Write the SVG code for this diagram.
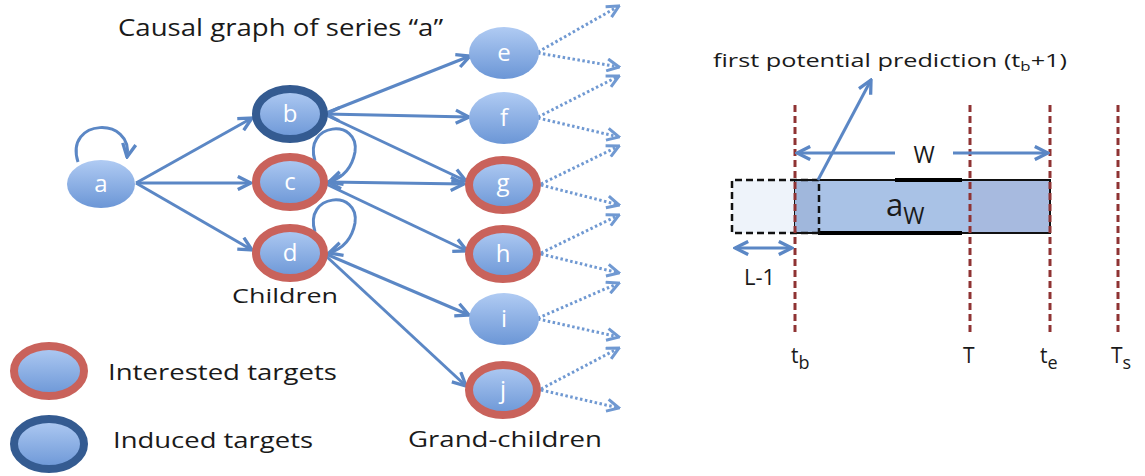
<svg xmlns="http://www.w3.org/2000/svg" width="1145" height="476" viewBox="0 0 1145 476">
<defs>
<linearGradient id="nodeGrad" x1="0" y1="0" x2="0" y2="1">
<stop offset="0" stop-color="#b0cbf3"/>
<stop offset="1" stop-color="#6b96d6"/>
</linearGradient>
<marker id="ah" viewBox="0 0 10 10" refX="9" refY="5" markerWidth="5.5" markerHeight="5.5" orient="auto-start-reverse" markerUnits="strokeWidth">
<path d="M1,1 L9,5 L1,9" fill="none" stroke="#5b87c5" stroke-width="2"/>
</marker>
<marker id="ahd" viewBox="0 0 10 10" refX="9" refY="5" markerWidth="5" markerHeight="5" orient="auto" markerUnits="strokeWidth">
<path d="M1,1 L9,5 L1,9" fill="none" stroke="#7099d2" stroke-width="2"/>
</marker>
</defs>
<style>
.node{fill:url(#nodeGrad);}
.red{stroke:#c9625b;stroke-width:8;}
.dark{stroke:#345b91;stroke-width:8;}
.nl{font-family:"Open Sans","Liberation Sans",sans-serif;font-size:24px;fill:#ffffff;text-anchor:middle;}
.lbl{font-family:"Open Sans","Liberation Sans",sans-serif;fill:#1a1a1a;}
.edge{fill:none;stroke:#5b87c5;stroke-width:3;}
.dot{fill:none;stroke:#7099d2;stroke-width:3;stroke-dasharray:2.5,2.5;}
.vline{stroke:#8f3333;stroke-width:3;stroke-dasharray:7,4;}
</style>
<rect width="1145" height="476" fill="#ffffff"/>

<text class="lbl" x="118" y="36" font-size="23" textLength="325" lengthAdjust="spacingAndGlyphs">Causal graph of series “a”</text>

<g id="connectors">
<path class="edge" d="M78,162 C64,118 134,116 127,157" marker-end="url(#ah)"/>
<path class="edge" d="M315,161 C303,122 360,118 355,152 C352,168 342,178 329,182" marker-end="url(#ah)"/>
<path class="edge" d="M315,232 C303,193 360,189 355,223 C352,239 342,249 329,253" marker-end="url(#ah)"/>
<line class="edge" x1="136" y1="183" x2="252" y2="118" marker-end="url(#ah)"/>
<line class="edge" x1="136" y1="183" x2="251" y2="183" marker-end="url(#ah)"/>
<line class="edge" x1="136" y1="183" x2="252" y2="250" marker-end="url(#ah)"/>
<line class="edge" x1="326" y1="113" x2="470" y2="56" marker-end="url(#ah)"/>
<line class="edge" x1="326" y1="114" x2="469" y2="117" marker-start="url(#ah)" marker-end="url(#ah)"/>
<line class="edge" x1="326" y1="115" x2="466" y2="181" marker-end="url(#ah)"/>
<line class="edge" x1="328" y1="182" x2="464" y2="184" marker-start="url(#ah)" marker-end="url(#ah)"/>
<line class="edge" x1="326" y1="184" x2="467" y2="251" marker-end="url(#ah)"/>
<line class="edge" x1="326" y1="254" x2="469" y2="315" marker-end="url(#ah)"/>
<line class="edge" x1="326" y1="256" x2="466" y2="386" marker-end="url(#ah)"/>
<line class="dot" x1="538" y1="52" x2="619" y2="6" marker-end="url(#ahd)"/>
<line class="dot" x1="538" y1="53" x2="619" y2="67" marker-end="url(#ahd)"/>
<line class="dot" x1="538" y1="117" x2="619" y2="76" marker-end="url(#ahd)"/>
<line class="dot" x1="538" y1="118" x2="619" y2="137" marker-end="url(#ahd)"/>
<line class="dot" x1="541" y1="184" x2="619" y2="146" marker-end="url(#ahd)"/>
<line class="dot" x1="541" y1="185" x2="619" y2="205" marker-end="url(#ahd)"/>
<line class="dot" x1="541" y1="253" x2="619" y2="215" marker-end="url(#ahd)"/>
<line class="dot" x1="541" y1="254" x2="619" y2="273" marker-end="url(#ahd)"/>
<line class="dot" x1="538" y1="318" x2="619" y2="283" marker-end="url(#ahd)"/>
<line class="dot" x1="538" y1="319" x2="619" y2="337" marker-end="url(#ahd)"/>
<line class="dot" x1="541" y1="389" x2="619" y2="348" marker-end="url(#ahd)"/>
<line class="dot" x1="541" y1="390" x2="619" y2="408" marker-end="url(#ahd)"/>
</g>

<g id="node-a"><ellipse class="node" cx="101" cy="184" rx="34" ry="24"/><text class="nl" x="101" y="192">a</text></g>
<g id="node-b"><ellipse class="node dark" cx="290" cy="114" rx="34" ry="25"/><text class="nl" x="290" y="122">b</text></g>
<g id="node-c"><ellipse class="node red" cx="290" cy="182" rx="34" ry="25"/><text class="nl" x="290" y="190">c</text></g>
<g id="node-d"><ellipse class="node red" cx="290" cy="253" rx="34" ry="25"/><text class="nl" x="290" y="261">d</text></g>
<g id="node-e"><ellipse class="node" cx="504" cy="53" rx="35" ry="26"/><text class="nl" x="504" y="61">e</text></g>
<g id="node-f"><ellipse class="node" cx="504" cy="118" rx="35" ry="26"/><text class="nl" x="504" y="126">f</text></g>
<g id="node-g"><ellipse class="node red" cx="503" cy="185" rx="34" ry="25"/><text class="nl" x="503" y="191">g</text></g>
<g id="node-h"><ellipse class="node red" cx="503" cy="254" rx="34" ry="25"/><text class="nl" x="503" y="262">h</text></g>
<g id="node-i"><ellipse class="node" cx="504" cy="319" rx="35" ry="26"/><text class="nl" x="504" y="327">i</text></g>
<g id="node-j"><ellipse class="node red" cx="503" cy="390" rx="34" ry="25"/><text class="nl" x="503" y="398">j</text></g>

<text class="lbl" x="232" y="303" font-size="20" textLength="106" lengthAdjust="spacingAndGlyphs">Children</text>
<text class="lbl" x="408" y="447" font-size="21" textLength="194" lengthAdjust="spacingAndGlyphs">Grand-children</text>

<g id="legend-interested">
<ellipse class="node red" cx="49" cy="371" rx="35" ry="25"/>
<text class="lbl" x="108" y="380" font-size="22" textLength="229" lengthAdjust="spacingAndGlyphs">Interested targets</text>
</g>
<g id="legend-induced">
<ellipse class="node dark" cx="49" cy="444" rx="35" ry="25"/>
<text class="lbl" x="113" y="448" font-size="22" textLength="200" lengthAdjust="spacingAndGlyphs">Induced targets</text>
</g>

<g id="window">
<rect x="732" y="180" width="87" height="53" fill="#eef3fa"/>
<rect x="795" y="180" width="255" height="53" fill="#a9c2e6" stroke="#111" stroke-width="2"/>
<rect x="795" y="181" width="23" height="51" fill="#a0b7dc"/>
<rect x="970" y="181" width="79" height="51" fill="#a7badf"/>
<line x1="895" y1="180" x2="962" y2="180" stroke="#000" stroke-width="4"/>
<line x1="818" y1="233" x2="962" y2="233" stroke="#000" stroke-width="4"/>
<path d="M819,233 L732,233 L732,180 L819,180 Z" fill="none" stroke="#111" stroke-width="2.5" stroke-dasharray="7,4"/>
<text class="lbl" x="886" y="216" font-size="31">a<tspan font-size="23" dy="8">W</tspan></text>
</g>

<g id="timelines">
<line class="vline" x1="795" y1="105" x2="795" y2="336"/>
<line class="vline" x1="970" y1="105" x2="970" y2="336"/>
<line class="vline" x1="1050" y1="105" x2="1050" y2="336"/>
<line class="vline" x1="1118" y1="105" x2="1118" y2="336"/>
</g>

<g id="annotations">
<line class="edge" x1="895" y1="153" x2="797" y2="153" marker-end="url(#ah)"/>
<line class="edge" x1="953" y1="153" x2="1048" y2="153" marker-end="url(#ah)"/>
<text class="lbl" x="924" y="163" font-size="23" text-anchor="middle">W</text>
<line class="edge" x1="818" y1="180" x2="871" y2="80" marker-end="url(#ah)"/>
<text class="lbl" x="713" y="67" font-size="18" textLength="354" lengthAdjust="spacingAndGlyphs">first potential prediction (t<tspan font-size="12" dy="4">b</tspan><tspan dy="-4">+1)</tspan></text>
<line class="edge" x1="735" y1="248" x2="792" y2="248" marker-start="url(#ah)" marker-end="url(#ah)"/>
<text class="lbl" x="744" y="285" font-size="22">L-1</text>
<text class="lbl" x="791" y="363" font-size="21">t<tspan font-size="18" dy="6">b</tspan></text>
<text class="lbl" x="963" y="363" font-size="21">T</text>
<text class="lbl" x="1040" y="363" font-size="21">t<tspan font-size="18" dy="6">e</tspan></text>
<text class="lbl" x="1111" y="363" font-size="21">T<tspan font-size="18" dy="6">s</tspan></text>
</g>
</svg>
